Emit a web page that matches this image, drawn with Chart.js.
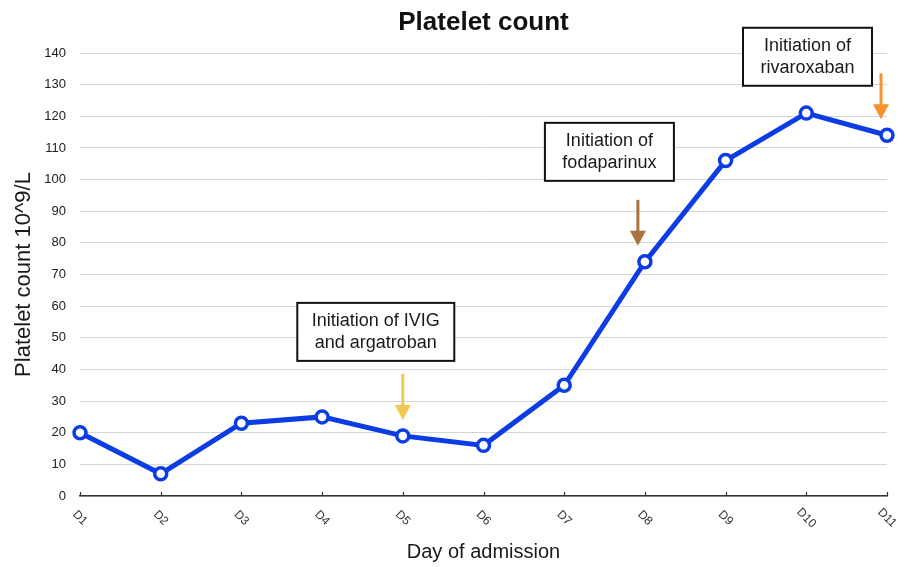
<!DOCTYPE html>
<html>
<head>
<meta charset="utf-8">
<script src="https://cdn.jsdelivr.net/npm/chart.js@4/dist/chart.umd.min.js"></script>
<style>
  html, body { margin: 0; padding: 0; background: #ffffff; }
  #wrap { width: 907px; height: 567px; position: relative; }
</style>
</head>
<body>
<div id="wrap"><canvas id="c" width="907" height="567"></canvas></div>
<script>
// ---- data ----
const days = ['D1','D2','D3','D4','D5','D6','D7','D8','D9','D10','D11'];
const plateletCount = [20, 7, 23, 25, 19, 16, 35, 74, 106, 121, 114];
const yTicks = [0, 10, 20, 30, 40, 50, 60, 70, 80, 90, 100, 110, 120, 130, 140];
const chartTitle = 'Platelet count';
const noteDays = ['D5', 'D8', 'D11'];
const noteTexts = [
  ['Initiation of IVIG', 'and argatroban'],
  ['Initiation of', 'fodaparinux'],
  ['Initiation of', 'rivaroxaban']
];

// ---- styling / placement of the annotations (pixel offsets from the data point) ----
const noteStyle = [
  { color: '#f2c850', arrowDx: 0,  boxDx: -27,   boxDy: -104, boxW: 157 },
  { color: '#a9743f', arrowDx: -7, boxDx: -35.5, boxDy: -110, boxW: 129 },
  { color: '#f7922f', arrowDx: -6, boxDx: -79.5, boxDy: -78.5, boxW: 129 }
];

const FONT = '"Liberation Sans", Arial, Helvetica, sans-serif';

const customDraw = {
  id: 'customDraw',
  afterDraw(chart) {
    const ctx = chart.ctx;
    const xs = chart.scales.x;
    const ys = chart.scales.y;
    const area = chart.chartArea;
    const bottom = area.bottom;

    ctx.save();
    // title centred over the plot area
    ctx.font = 'bold 26px ' + FONT;
    ctx.fillStyle = '#111';
    ctx.textAlign = 'center';
    ctx.textBaseline = 'middle';
    ctx.fillText(chartTitle, (area.left + area.right) / 2, 23);

    // small tick marks on the x axis (pointing up)
    ctx.strokeStyle = '#333';
    ctx.lineWidth = 1.2;
    days.forEach((d, i) => {
      const x = Math.round(xs.getPixelForValue(i)) + 0.5;
      ctx.beginPath();
      ctx.moveTo(x, bottom);
      ctx.lineTo(x, bottom - 4);
      ctx.stroke();
    });

    // rotated x tick labels (clockwise 45deg)
    ctx.font = '12px ' + FONT;
    ctx.fillStyle = '#333';
    ctx.textAlign = 'left';
    ctx.textBaseline = 'middle';
    const c = Math.cos(Math.PI / 4);
    days.forEach((d, i) => {
      const x = xs.getPixelForValue(i);
      const w = ctx.measureText(d).width;
      ctx.save();
      ctx.translate(x - (w / 2) * c, bottom + 22 - (w / 2) * c);
      ctx.rotate(Math.PI / 4);
      ctx.fillText(d, 0, 0);
      ctx.restore();
    });

    // annotations: box + arrow
    noteDays.forEach((day, k) => {
      const idx = days.indexOf(day);
      const px = xs.getPixelForValue(idx);
      const py = ys.getPixelForValue(plateletCount[idx]);
      const st = noteStyle[k];

      // arrow
      const ax = px + st.arrowDx;
      const tipY = py - 16;
      const topY = tipY - 46;
      const headL = 15, headW = 8;
      ctx.strokeStyle = st.color;
      ctx.fillStyle = st.color;
      ctx.lineWidth = 3;
      ctx.beginPath();
      ctx.moveTo(ax, topY);
      ctx.lineTo(ax, tipY - headL + 1);
      ctx.stroke();
      ctx.beginPath();
      ctx.moveTo(ax - headW, tipY - headL);
      ctx.lineTo(ax + headW, tipY - headL);
      ctx.lineTo(ax, tipY);
      ctx.closePath();
      ctx.fill();

      // box
      const cx = px + st.boxDx;
      const cy = py + st.boxDy;
      const bw = st.boxW, bh = 58;
      ctx.fillStyle = '#ffffff';
      ctx.fillRect(cx - bw / 2, cy - bh / 2, bw, bh);
      ctx.strokeStyle = '#111';
      ctx.lineWidth = 2;
      ctx.strokeRect(cx - bw / 2, cy - bh / 2, bw, bh);
      ctx.fillStyle = '#1a1a1a';
      ctx.font = '18px ' + FONT;
      ctx.textAlign = 'center';
      ctx.textBaseline = 'middle';
      const lines = noteTexts[k];
      lines.forEach((t, j) => {
        ctx.fillText(t, cx, cy + (j - (lines.length - 1) / 2) * 22);
      });
    });
    ctx.restore();
  }
};

new Chart(document.getElementById('c'), {
  type: 'line',
  data: {
    labels: days,
    datasets: [{
      label: 'Platelet count',
      data: plateletCount,
      borderColor: '#0c3ce3',
      borderWidth: 5,
      pointBackgroundColor: '#ffffff',
      pointBorderColor: '#0c3ce3',
      pointBorderWidth: 3.5,
      pointRadius: 6,
      tension: 0,
      clip: false
    }]
  },
  options: {
    responsive: false,
    animation: false,
    devicePixelRatio: 1,
    layout: { padding: { left: 0, right: 20, top: 53, bottom: 0 } },
    plugins: {
      legend: { display: false },
      tooltip: { enabled: false },
      title: { display: false }
    },
    scales: {
      x: {
        offset: false,
        grid: { display: false },
        border: { display: true, color: '#333', width: 1.5 },
        ticks: { display: false },
        title: {
          display: true,
          text: 'Day of admission',
          color: '#1a1a1a',
          font: { family: FONT, size: 20, lineHeight: 1.2 },
          padding: { top: 0, bottom: 3 }
        },
        afterFit(scale) { scale.height = 71; }
      },
      y: {
        min: 0,
        max: 140,
        afterBuildTicks(scale) { scale.ticks = yTicks.map(v => ({ value: v })); },
        grid: { color: '#d6d6d6', lineWidth: 1, drawTicks: false },
        border: { display: false },
        ticks: {
          color: '#222',
          padding: 14,
          font: { family: FONT, size: 13 }
        },
        title: {
          display: true,
          text: 'Platelet count 10^9/L',
          color: '#1a1a1a',
          font: { family: FONT, size: 22, lineHeight: 1.2 },
          padding: { top: 11, bottom: 0 }
        },
        afterFit(scale) { scale.width = 80; }
      }
    }
  },
  plugins: [customDraw]
});
</script>
</body>
</html>
